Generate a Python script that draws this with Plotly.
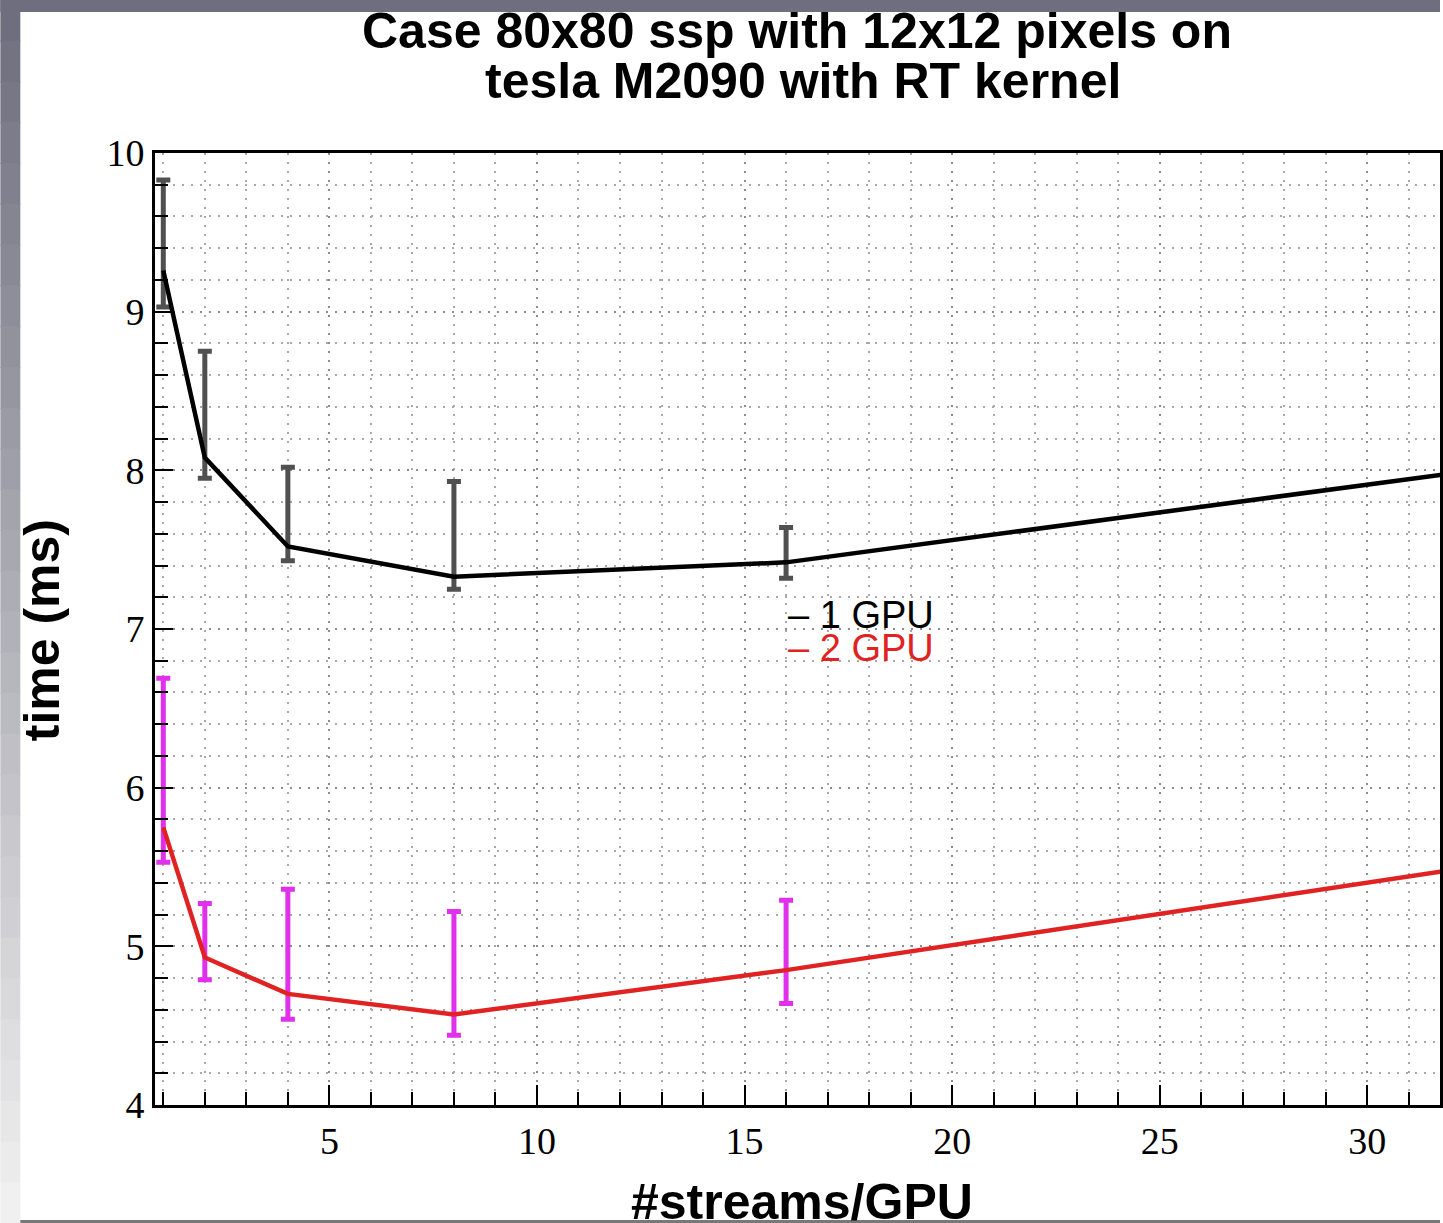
import plotly.graph_objects as go

# ---- data ----
streams = [1, 2, 4, 8, 16, 32]
gpu1_time = [9.26, 8.08, 7.52, 7.33, 7.42, 7.98]
gpu1_upper = [9.83, 8.75, 8.02, 7.93, 7.64, 7.98]
gpu1_lower = [9.03, 7.95, 7.43, 7.25, 7.32, 7.98]
gpu2_time = [5.75, 4.93, 4.70, 4.57, 4.85, 5.48]
gpu2_upper = [6.69, 5.27, 5.36, 5.22, 5.29, 5.48]
gpu2_lower = [5.53, 4.79, 4.54, 4.44, 4.64, 5.48]
series_names = ["1 GPU", "2 GPU"]
x_ticks = [5, 10, 15, 20, 25, 30]
y_ticks = [4, 5, 6, 7, 8, 9, 10]

W, H = 1443, 1223
ML, MR, MT, MB = 155, 0, 153, 118
PW, PH = W - ML - MR, H - MT - MB


def px2x(px):
    return (px - ML) / PW


def py2y(py):
    return (H - MB - py) / PH


fig = go.Figure()

# error bars (drawn first, under lines)
for t, up, lo, col in [
    (gpu1_time, gpu1_upper, gpu1_lower, "#505050"),
    (gpu2_time, gpu2_upper, gpu2_lower, "#e030ec"),
]:
    fig.add_trace(go.Scatter(
        x=streams, y=t, mode="markers",
        marker=dict(size=1, opacity=0),
        error_y=dict(type="data", symmetric=False,
                     array=[u - v for u, v in zip(up, t)],
                     arrayminus=[v - l for v, l in zip(t, lo)],
                     color=col, thickness=5, width=7),
        showlegend=False, hoverinfo="skip",
    ))

fig.add_trace(go.Scatter(x=streams, y=gpu1_time, mode="lines",
                         line=dict(color="black", width=4.5), name=series_names[0],
                         showlegend=False))
fig.add_trace(go.Scatter(x=streams, y=gpu2_time, mode="lines",
                         line=dict(color="#e02222", width=4.5), name=series_names[1],
                         showlegend=False))

# legend-like text labels
fig.add_annotation(x=16, y=7.09, xref="x", yref="y", xanchor="left", yanchor="middle",
                   text="– " + series_names[0], showarrow=False,
                   font=dict(family="Liberation Sans", size=38, color="black"))
fig.add_annotation(x=16, y=6.88, xref="x", yref="y", xanchor="left", yanchor="middle",
                   text="– " + series_names[1], showarrow=False,
                   font=dict(family="Liberation Sans", size=38, color="#e02222"))

# title lines
title_font = dict(family="Liberation Sans", size=50, color="black", weight="bold")
fig.add_annotation(x=px2x(798), y=py2y(31), xref="paper", yref="paper",
                   text="Case 80x80 ssp with 12x12 pixels on", showarrow=False,
                   xanchor="center", yanchor="middle", font=title_font)
fig.add_annotation(x=px2x(805), y=py2y(81), xref="paper", yref="paper",
                   text="tesla M2090 with RT kernel", showarrow=False,
                   xanchor="center", yanchor="middle", font=title_font)
# axis titles as text
fig.add_annotation(x=px2x(42), y=py2y(630), xref="paper", yref="paper",
                   text="time (ms)", showarrow=False, textangle=-90,
                   xanchor="center", yanchor="middle", font=title_font)
fig.add_annotation(x=px2x(804), y=py2y(1202), xref="paper", yref="paper",
                   text="#streams/GPU", showarrow=False,
                   xanchor="center", yanchor="middle", font=title_font)

# screenshot frame (left gradient strip, top strip, bottom line)
shapes = []
n = 30
top_c = (108, 108, 124)
bot_c = (242, 242, 242)
for i in range(n):
    f = (i + 0.5) / n
    c = tuple(int(round(a + (b - a) * f)) for a, b in zip(top_c, bot_c))
    y0 = H * i / n
    y1 = H * (i + 1) / n + 1
    shapes.append(dict(type="rect", xref="paper", yref="paper",
                       x0=px2x(0), x1=px2x(20), y0=py2y(y1), y1=py2y(y0),
                       fillcolor="rgb(%d,%d,%d)" % c, line=dict(width=0), layer="below"))
shapes.append(dict(type="rect", xref="paper", yref="paper",
                   x0=px2x(0), x1=px2x(W), y0=py2y(12), y1=py2y(0),
                   fillcolor="rgb(110,110,126)", line=dict(width=0), layer="below"))
shapes.append(dict(type="rect", xref="paper", yref="paper",
                   x0=px2x(20), x1=px2x(W), y0=py2y(H), y1=py2y(1220),
                   fillcolor="rgb(120,120,120)", line=dict(width=0), layer="above"))

grid = dict(showgrid=True, gridcolor="#8c8c8c", gridwidth=2, griddash="2px,7px")
mgrid = dict(showgrid=True, gridcolor="#a8a8a8", gridwidth=2, griddash="2px,7px")

fig.update_layout(
    width=W, height=H,
    margin=dict(l=ML, r=MR, t=MT, b=MB, pad=0),
    paper_bgcolor="white", plot_bgcolor="white",
    showlegend=False,
    shapes=shapes,
    xaxis=dict(range=[0.8, 31.75], tickvals=x_ticks, ticktext=[str(v) for v in x_ticks],
               ticks="inside", ticklen=20, tickwidth=2, tickcolor="black",
               showline=True, linewidth=3, linecolor="black", mirror=True,
               zeroline=False,
               tickfont=dict(family="Liberation Serif", size=38, color="black"),
               minor=dict(dtick=1, tick0=0, ticks="inside", ticklen=13, tickwidth=2,
                          tickcolor="black", **mgrid),
               **grid),
    yaxis=dict(range=[4, 10], tickvals=y_ticks, ticktext=[str(v) for v in y_ticks],
               ticks="inside", ticklen=18, tickwidth=2, tickcolor="black",
               showline=True, linewidth=3, linecolor="black", mirror=True,
               zeroline=False,
               tickfont=dict(family="Liberation Serif", size=38, color="black"),
               minor=dict(dtick=0.2, tick0=0, ticks="inside", ticklen=13, tickwidth=2,
                          tickcolor="black", **mgrid),
               **grid),
)

fig.write_html("out.html")
